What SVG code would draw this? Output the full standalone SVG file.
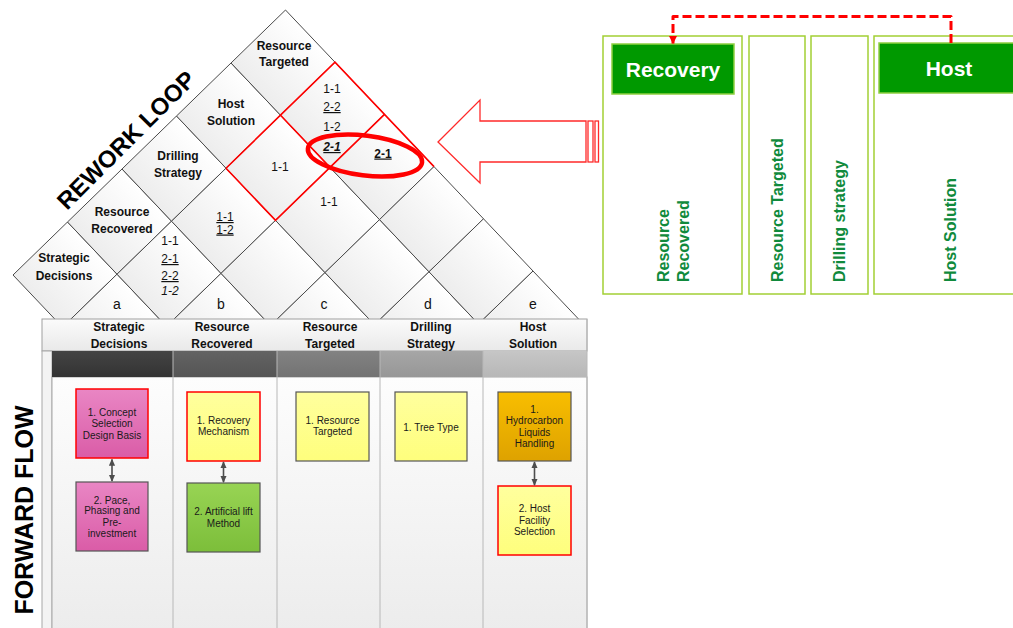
<svg xmlns="http://www.w3.org/2000/svg" width="1013" height="628" viewBox="0 0 1013 628">
<defs>
<style>
text{font-family:"Liberation Sans",Arial,sans-serif;}
.cell{fill:url(#cellg);stroke:#4a4a4a;stroke-width:1;vector-effect:non-scaling-stroke;}
.lbl{font-size:12px;font-weight:bold;fill:#111;text-anchor:middle;}
.num{font-size:12px;fill:#111;text-anchor:middle;}
.let{font-size:14px;fill:#111;text-anchor:middle;}
.hdr{font-size:12px;font-weight:bold;fill:#111;text-anchor:middle;}
.bx{font-size:10px;fill:#1a1a1a;text-anchor:middle;}
.lane{fill:none;stroke:#b8b8b8;stroke-width:1;}
.gbox{fill:#fff;stroke:#a2cf34;stroke-width:1.5;}
.ghead{fill:#009900;stroke:#8fd040;stroke-width:1.5;}
.gtitle{font-size:21px;font-weight:bold;fill:#fff;text-anchor:middle;}
.gv{font-size:16px;font-weight:bold;fill:#108a3c;}
.big{font-size:25px;font-weight:bold;fill:#000;text-anchor:middle;}
.dbl{stroke:#4d4d4d;stroke-width:1.6;fill:none;marker-start:url(#dh);marker-end:url(#dh);}
</style>
<linearGradient id="cellg" x1="0" y1="0" x2="1" y2="0">
<stop offset="0" stop-color="#ededed"/><stop offset="1" stop-color="#ffffff"/>
</linearGradient>
<linearGradient id="hdrg" x1="0" y1="0" x2="0" y2="1">
<stop offset="0" stop-color="#fbfbfb"/><stop offset="1" stop-color="#e9e9e9"/>
</linearGradient>
<linearGradient id="bodyg" x1="0" y1="0" x2="0" y2="1">
<stop offset="0" stop-color="#fdfdfd"/><stop offset="1" stop-color="#ececec"/>
</linearGradient>
<linearGradient id="pink" x1="0" y1="0" x2="0" y2="1">
<stop offset="0" stop-color="#e986c4"/><stop offset="1" stop-color="#da5ca7"/>
</linearGradient>
<linearGradient id="yel" x1="0" y1="0" x2="0" y2="1">
<stop offset="0" stop-color="#ffff9e"/><stop offset="1" stop-color="#fefe7c"/>
</linearGradient>
<linearGradient id="grn" x1="0" y1="0" x2="0" y2="1">
<stop offset="0" stop-color="#98d454"/><stop offset="1" stop-color="#7cbe3a"/>
</linearGradient>
<linearGradient id="org" x1="0" y1="0" x2="0" y2="1">
<stop offset="0" stop-color="#f8be00"/><stop offset="1" stop-color="#dea200"/>
</linearGradient>
<linearGradient id="b1" x1="0" y1="0" x2="0" y2="1"><stop offset="0" stop-color="#444"/><stop offset="1" stop-color="#333"/></linearGradient>
<linearGradient id="b2" x1="0" y1="0" x2="0" y2="1"><stop offset="0" stop-color="#636363"/><stop offset="1" stop-color="#555"/></linearGradient>
<linearGradient id="b3" x1="0" y1="0" x2="0" y2="1"><stop offset="0" stop-color="#828282"/><stop offset="1" stop-color="#737373"/></linearGradient>
<linearGradient id="b4" x1="0" y1="0" x2="0" y2="1"><stop offset="0" stop-color="#a6a6a6"/><stop offset="1" stop-color="#979797"/></linearGradient>
<linearGradient id="b5" x1="0" y1="0" x2="0" y2="1"><stop offset="0" stop-color="#c6c6c6"/><stop offset="1" stop-color="#b7b7b7"/></linearGradient>
<clipPath id="roofclip"><rect x="0" y="0" width="600" height="319.5"/></clipPath>
<marker id="dh" viewBox="0 0 8 8" refX="7" refY="4" markerWidth="7" markerHeight="7" markerUnits="userSpaceOnUse" orient="auto-start-reverse">
<path d="M0,0.5 L8,4 L0,7.5 z" fill="#4d4d4d"/>
</marker>
<marker id="rh" viewBox="0 0 8 8" refX="7.5" refY="4" markerWidth="8" markerHeight="8" markerUnits="userSpaceOnUse" orient="auto">
<path d="M0,0 L8,4 L0,8 z" fill="#ff0000"/>
</marker>
</defs>

<rect width="1013" height="628" fill="#fff"/>

<!-- Roof (rework loop matrix) -->
<g id="roof" clip-path="url(#roofclip)">
<g transform="matrix(54.5 -53 49.5 52.2 13 275)">
<rect class="cell" x="0" y="0" width="1" height="1"/><rect class="cell" x="0" y="1" width="1" height="1"/>
<rect class="cell" x="1" y="0" width="1" height="1"/><rect class="cell" x="1" y="1" width="1" height="1"/><rect class="cell" x="1" y="2" width="1" height="1"/>
<rect class="cell" x="2" y="0" width="1" height="1"/><rect class="cell" x="2" y="1" width="1" height="1"/><rect class="cell" x="2" y="2" width="1" height="1"/><rect class="cell" x="2" y="3" width="1" height="1"/>
<rect class="cell" x="3" y="0" width="1" height="1"/><rect class="cell" x="3" y="1" width="1" height="1"/><rect class="cell" x="3" y="2" width="1" height="1"/><rect class="cell" x="3" y="3" width="1" height="1"/><rect class="cell" x="3" y="4" width="1" height="1"/>
<rect class="cell" x="4" y="0" width="1" height="1"/><rect class="cell" x="4" y="1" width="1" height="1"/><rect class="cell" x="4" y="2" width="1" height="1"/><rect class="cell" x="4" y="3" width="1" height="1"/><rect class="cell" x="4" y="4" width="1" height="1"/><rect class="cell" x="4" y="5" width="1" height="1"/>
<path d="M3,1 L5,1 L5,3 M5,2 L4,2 L3,2 L3,1 M4,1 L4,2" fill="none" stroke="#ff0000" stroke-width="1.6" vector-effect="non-scaling-stroke"/>
</g>
</g>

<g id="roof-labels">
<text class="lbl" x="64" y="262">Strategic</text><text class="lbl" x="64" y="280">Decisions</text>
<text class="lbl" x="122" y="216">Resource</text><text class="lbl" x="122" y="233">Recovered</text>
<text class="lbl" x="178" y="160">Drilling</text><text class="lbl" x="178" y="177">Strategy</text>
<text class="lbl" x="231" y="108">Host</text><text class="lbl" x="231" y="125">Solution</text>
<text class="lbl" x="284" y="50">Resource</text><text class="lbl" x="284" y="66">Targeted</text>
</g>

<g id="roof-values">
<text class="num" x="170" y="245">1-1</text>
<text class="num" x="170" y="263" text-decoration="underline">2-1</text>
<text class="num" x="170" y="280" text-decoration="underline">2-2</text>
<text class="num" x="170" y="295" font-style="italic">1-2</text>
<text class="num" x="225" y="221" text-decoration="underline">1-1</text>
<text class="num" x="225" y="233.5" text-decoration="underline">1-2</text>
<text class="num" x="280" y="171">1-1</text>
<text class="num" x="329" y="206">1-1</text>
<text class="num" x="332" y="92.5">1-1</text>
<text class="num" x="332" y="111" text-decoration="underline">2-2</text>
<text class="num" x="332" y="131">1-2</text>
<text class="num" x="332" y="151" font-weight="bold" font-style="italic" text-decoration="underline">2-1</text>
<text class="num" x="383" y="157.5" font-weight="bold" text-decoration="underline">2-1</text>
</g>

<g id="roof-letters">
<text class="let" x="117" y="309">a</text>
<text class="let" x="221" y="309">b</text>
<text class="let" x="324" y="309">c</text>
<text class="let" x="428" y="309">d</text>
<text class="let" x="533" y="309">e</text>
</g>

<ellipse id="highlight" cx="365" cy="155.5" rx="57.5" ry="20" transform="rotate(7 365 155.5)" fill="none" stroke="#ff0000" stroke-width="4.5"/>

<text id="rework-loop" class="big" font-size="24" style="font-size:24px" transform="translate(132,146) rotate(-45)">REWORK LOOP</text>

<!-- Swimlane frame -->
<g id="lanes">
<rect x="42" y="319" width="545" height="32" fill="url(#hdrg)" stroke="#a0a0a0" stroke-width="1"/>
<rect x="42" y="351" width="10" height="280" fill="#f3f3f3" stroke="#a8a8a8" stroke-width="1"/>
<rect x="52" y="377" width="535" height="254" fill="url(#bodyg)" stroke="#a8a8a8" stroke-width="1"/>
<rect x="52" y="351" width="121" height="26" fill="url(#b1)"/>
<rect x="173" y="351" width="104" height="26" fill="url(#b2)"/>
<rect x="277" y="351" width="103" height="26" fill="url(#b3)"/>
<rect x="380" y="351" width="103" height="26" fill="url(#b4)"/>
<rect x="483" y="351" width="104" height="26" fill="url(#b5)"/>
<path class="lane" d="M173,351 V630 M277,351 V630 M380,351 V630 M483,351 V630 M587,319 V630"/>
<text class="hdr" x="119" y="331">Strategic</text><text class="hdr" x="119" y="348">Decisions</text>
<text class="hdr" x="222" y="331">Resource</text><text class="hdr" x="222" y="348">Recovered</text>
<text class="hdr" x="330" y="331">Resource</text><text class="hdr" x="330" y="348">Targeted</text>
<text class="hdr" x="431" y="331">Drilling</text><text class="hdr" x="431" y="348">Strategy</text>
<text class="hdr" x="533" y="331">Host</text><text class="hdr" x="533" y="348">Solution</text>
</g>

<text id="forward-flow" class="big" transform="translate(33,510) rotate(-90)">FORWARD FLOW</text>

<g id="n-concept">
<rect x="76" y="389" width="72" height="69" fill="url(#pink)" stroke="#ff0000" stroke-width="1.5"/>
<text class="bx" x="112" y="415.5">1. Concept</text><text class="bx" x="112" y="427">Selection</text><text class="bx" x="112" y="438.5">Design Basis</text>
</g>
<g id="n-pace">
<rect x="76" y="482" width="72" height="69" fill="url(#pink)" stroke="#555" stroke-width="1.2"/>
<text class="bx" x="112" y="503.5">2. Pace,</text><text class="bx" x="112" y="514">Phasing and</text><text class="bx" x="112" y="525.5">Pre-</text><text class="bx" x="112" y="536.5">investment</text>
</g>
<g id="n-recovery">
<rect x="187" y="392" width="73" height="69" fill="url(#yel)" stroke="#ff0000" stroke-width="1.5"/>
<text class="bx" x="223.5" y="423.5">1. Recovery</text><text class="bx" x="223.5" y="434.5">Mechanism</text>
</g>
<g id="n-artlift">
<rect x="187" y="483" width="73" height="69" fill="url(#grn)" stroke="#555" stroke-width="1.2"/>
<text class="bx" x="223.5" y="514.5">2. Artificial lift</text><text class="bx" x="223.5" y="526.5">Method</text>
</g>
<g id="n-restarget">
<rect x="296" y="392" width="73" height="69" fill="url(#yel)" stroke="#555" stroke-width="1.2"/>
<text class="bx" x="332.5" y="423.5">1. Resource</text><text class="bx" x="332.5" y="434.5">Targeted</text>
</g>
<g id="n-tree">
<rect x="395" y="392" width="72" height="69" fill="url(#yel)" stroke="#555" stroke-width="1.2"/>
<text class="bx" x="431" y="430.5">1. Tree Type</text>
</g>
<g id="n-hydro">
<rect x="498" y="392" width="73" height="69" fill="url(#org)" stroke="#555" stroke-width="1.2"/>
<text class="bx" x="534.5" y="412.5">1.</text><text class="bx" x="534.5" y="423.5">Hydrocarbon</text><text class="bx" x="534.5" y="435.5">Liquids</text><text class="bx" x="534.5" y="446.5">Handling</text>
</g>
<g id="n-hostfac">
<rect x="498" y="486" width="73" height="69" fill="url(#yel)" stroke="#ff0000" stroke-width="1.5"/>
<text class="bx" x="534.5" y="511.5">2. Host</text><text class="bx" x="534.5" y="523.5">Facility</text><text class="bx" x="534.5" y="534.5">Selection</text>
</g>

<!-- Right panel -->
<g id="p-recovery">
<rect class="gbox" x="603" y="36" width="139" height="258"/>
<rect class="ghead" x="612" y="44" width="122" height="50"/>
<text class="gtitle" x="673" y="76.5">Recovery</text>
<text class="gv" transform="translate(669,282) rotate(-90)">Resource</text>
<text class="gv" transform="translate(689,282) rotate(-90)">Recovered</text>
</g>
<g id="p-targeted">
<rect class="gbox" x="749" y="36" width="56" height="258"/>
<text class="gv" transform="translate(783,282) rotate(-90)">Resource Targeted</text>
</g>
<g id="p-drilling">
<rect class="gbox" x="811" y="36" width="57" height="258"/>
<text class="gv" transform="translate(845,282) rotate(-90)">Drilling strategy</text>
</g>
<g id="p-host">
<rect class="gbox" x="874" y="36" width="150" height="258"/>
<rect class="ghead" x="879" y="43" width="145" height="50"/>
<text class="gtitle" x="949" y="75.5">Host</text>
<text class="gv" transform="translate(956,282) rotate(-90)">Host Solution</text>
</g>

<!-- Connectors -->
<g id="connectors">
<path class="dbl" d="M112,459.5 V481"/>
<path class="dbl" d="M223.5,462 V482"/>
<path class="dbl" d="M534.5,462 V485"/>
<path d="M951,43 V16.5 H673 V43.5" fill="none" stroke="#ff0000" stroke-width="3" stroke-dasharray="9 4" stroke-linejoin="round" marker-end="url(#rh)"/>
<g fill="#fff" stroke="#ff2a2a" stroke-width="1.3">
<polygon points="438,142 480,100 480,121 586,121 586,162 480,162 480,183"/>
<rect x="588" y="121" width="5" height="41"/>
<rect x="595" y="121" width="3.5" height="41"/>
</g>
</g>
</svg>
